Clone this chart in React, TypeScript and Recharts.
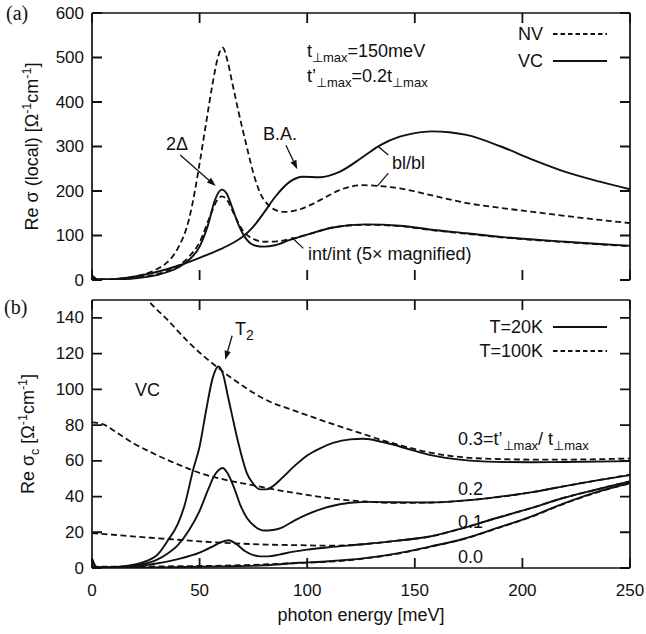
import React from 'react';
import { LineChart, Line, XAxis, YAxis, ReferenceLine } from 'recharts';

// ---------- ticks ----------
const xTicks = [0, 50, 100, 150, 200, 250];
const yTicksA = [0, 100, 200, 300, 400, 500, 600];
const yTicksB = [0, 20, 40, 60, 80, 100, 120, 140];

// ---------- panel (a) ----------
// NV bl/bl (dashed)
const nvBlX = [0, 2, 5, 10, 15, 20, 25, 30, 35, 40, 45, 48, 50, 53, 56, 58.5, 60.7, 63, 65, 68, 72, 75, 78, 82, 86, 90, 96, 103, 110, 115, 126, 134, 143, 158, 174, 190, 205, 220, 236, 250];
const nvBlY = [10, 2, 1, 2, 4, 8, 14, 24, 40, 72, 135, 205, 262, 352, 440, 500, 522, 492, 447, 380, 298, 240, 197, 168, 156, 153, 158, 172, 190, 202, 213, 211, 206, 190, 173, 162, 153, 144, 135, 128];
// VC bl/bl (solid)
const vcBlX = [0, 2, 5, 10, 20, 30, 40, 50, 60, 65, 70, 75, 80, 85, 92, 98, 106, 115, 126, 134, 143, 150, 158, 166, 174, 190, 205, 220, 236, 250];
const vcBlY = [10, 2, 1, 2, 8, 18, 32, 50, 70, 82, 97, 120, 152, 186, 221, 232, 231, 243, 277, 303, 322, 330, 334, 332, 326, 300, 270, 243, 221, 204];
// VC int/int x5 (solid)
const vcIntX = [0, 2, 5, 10, 20, 30, 40, 45, 50, 54, 57, 60.3, 62.5, 65, 68, 72, 76, 80, 85, 92, 100, 112, 127, 143, 158, 174, 190, 205, 220, 236, 250];
const vcIntY = [10, 2, 1, 1, 4, 11, 28, 45, 75, 125, 178, 203, 195, 165, 125, 90, 77, 75, 78, 90, 102, 118, 125, 122, 113, 105, 97, 91, 86, 81, 77];
// NV int/int x5 (dashed)
const nvIntX = [0, 2, 5, 10, 20, 30, 40, 45, 50, 55, 58, 60.4, 63, 66, 70, 75, 80, 86, 92, 100, 112, 127, 143, 158, 174, 190, 205, 220, 236, 250];
const nvIntY = [10, 2, 1, 1, 5, 13, 32, 52, 85, 145, 178, 188, 178, 148, 112, 92, 86, 87, 92, 102, 118, 124, 121, 112, 104, 96, 90, 85, 80, 76];

// ---------- panel (b) ----------
const vc03X = [0, 2, 5, 10, 20, 30, 35, 40, 43, 47, 50, 53, 56, 58.7, 61, 63, 65, 68, 72, 75, 78, 81, 84, 88, 94, 100, 106, 112, 120, 126, 135, 143, 158, 172, 188, 204, 220, 250];
const vc03Y = [5, 0.5, 0.3, 0.5, 2, 7, 15, 25, 35, 55, 68, 88, 106, 112.8, 108, 97, 86, 70, 53, 47, 44, 44, 45.7, 50, 57, 63, 67, 70, 72, 72.3, 70.5, 68, 63, 60.5, 59.4, 59.2, 59.3, 59.8];
const nv03X = [0, 10, 20, 26, 35, 46, 58.6, 70, 81, 93, 100, 112, 126, 135, 143, 157, 172, 188, 204, 220, 250];
const nv03Y = [215, 185, 160, 150, 139, 125, 112, 102, 94, 88.5, 85.5, 80.5, 75, 71.5, 68.8, 64.6, 62, 61, 60.7, 60.7, 61.3];
const vc02X = [0, 2, 5, 10, 20, 30, 35, 40, 45, 50, 54, 57, 60.7, 63, 66, 69, 72, 76, 80, 84, 88, 94, 100, 110, 120, 130, 140, 157, 172, 188, 204, 219, 234, 250];
const vc02Y = [5, 0.5, 0.3, 0.5, 1.5, 4.5, 8, 13, 21, 32, 44, 52, 56, 53, 45, 35, 28, 23, 21, 21.3, 22.5, 26.5, 30, 34.3, 36.5, 37, 36.8, 36.7, 37.7, 39.7, 42.3, 45.7, 48.9, 52];
const nv02X = [0, 5, 10, 19, 27, 35, 43, 50, 58, 66, 74, 81, 90, 97, 105, 112, 126, 142, 157, 172, 188, 204, 219, 234, 250];
const nv02Y = [81.5, 80.5, 77, 70, 65, 60.5, 56.5, 53.2, 50.5, 48.3, 46.5, 44.8, 42.8, 41.5, 40, 38.8, 37.3, 36.4, 36.6, 37.6, 39.6, 42.3, 45.7, 48.9, 52.2];
const vc01X = [0, 2, 5, 10, 20, 30, 40, 50, 56, 60, 63.5, 67, 71, 75, 78, 82, 87, 93, 100, 110, 126, 142, 157, 172, 188, 204, 219, 234, 250];
const vc01Y = [5, 0.5, 0.3, 0.4, 1, 2.5, 5, 8.6, 12, 14.5, 15.5, 13.5, 9.5, 7.2, 6.5, 6.5, 7.5, 9, 10.3, 11.6, 13.3, 15.3, 17.6, 22.2, 28, 33.5, 39.2, 43.8, 48.5];
const nv01X = [0, 10, 20, 30, 40, 50, 60, 70, 81, 95, 110, 126, 142, 157, 172, 188, 204, 219, 234, 250];
const nv01Y = [19.5, 18.6, 17.6, 16.7, 15.8, 14.9, 14.2, 13.6, 13.1, 12.8, 12.5, 13.3, 15.3, 17.6, 22.2, 28, 33.5, 39.2, 43.8, 48.5];
const vc00X = [0, 2, 5, 20, 40, 60, 80, 96, 110, 126, 142, 157, 172, 188, 204, 219, 234, 250];
const vc00Y = [5, 0.5, 0.2, 0.3, 0.5, 0.9, 1.5, 2.9, 3.8, 5.4, 8.2, 12, 16.1, 22.3, 28.8, 36, 42.3, 47.6];
const nv00X = [0, 20, 40, 60, 80, 96, 110, 126, 142, 157, 172, 188, 204, 219, 234, 250];
const nv00Y = [0.8, 0.8, 1, 1.3, 2, 2.8, 3.5, 5.2, 8, 11.8, 16, 22.1, 28.6, 35.8, 42.1, 47.4];

// annotation anchors (data coordinates)
const arrow2D = [{ x: 41, y: 281 }, { x: 57.5, y: 211 }];
const arrowBA = [{ x: 90.1, y: 303 }, { x: 95.4, y: 249 }];
const leadBlUp = [{ x: 137.7, y: 281 }, { x: 133, y: 300 }];
const leadBlDn = [{ x: 137.7, y: 240 }, { x: 132.6, y: 211 }];
const leadInt = [{ x: 98.2, y: 71 }, { x: 92.8, y: 96 }];
const arrowT2 = [{ x: 65.1, y: 130 }, { x: 61.9, y: 116.6 }];

const zip = (xs: number[], ys: number[]) => xs.map((x, i) => ({ x, y: ys[i] }));

const INK = '#111';
const FONT = '"Liberation Sans", Arial, Helvetica, sans-serif';
const DASH = '6 3.5';
const TL = 10; // inward tick length
const PLOT_W = 538;

const ArrowShape = (p: any) => {
  const { x1, y1, x2, y2 } = p;
  const dx = x2 - x1, dy = y2 - y1;
  const len = Math.hypot(dx, dy) || 1;
  const ux = dx / len, uy = dy / len;
  const L = 9, W = 3.2;
  const bx = x2 - ux * L, by = y2 - uy * L;
  return (
    <g>
      <line x1={x1} y1={y1} x2={bx} y2={by} stroke={INK} strokeWidth={1.3} />
      <polygon points={`${x2},${y2} ${bx - uy * W},${by + ux * W} ${bx + uy * W},${by - ux * W}`} fill={INK} />
    </g>
  );
};
const LeaderShape = (p: any) => (
  <line x1={p.x1} y1={p.y1} x2={p.x2} y2={p.y2} stroke={INK} strokeWidth={1.2} />
);

const LeftLabel = (p: any) => (
  <text x={p.x - 8} y={p.y} textAnchor="end" dominantBaseline="central" fontFamily={FONT} fontSize={17} fill={INK}>
    {p.payload.value}
  </text>
);
const BottomLabel = (p: any) => (
  <text x={p.x} y={p.y + 28} textAnchor="middle" fontFamily={FONT} fontSize={17} fill={INK}>
    {p.payload.value}
  </text>
);

const axisLine = { stroke: INK, strokeWidth: 1.7 };
const axesCommon = { axisLine, tickLine: false, tickSize: 0, tickMargin: 0, interval: 0 as const, allowDataOverflow: true };

const solid = (data: any[], key: string) => (
  <Line key={key} data={data} dataKey="y" type="monotone" dot={false} stroke={INK} strokeWidth={1.9} isAnimationActive={false} />
);
const dashed = (data: any[], key: string) => (
  <Line key={key} data={data} dataKey="y" type="monotone" dot={false} stroke={INK} strokeWidth={1.8}
    strokeDasharray={DASH} isAnimationActive={false} />
);

// frame (top & right) plus inward ticks on all four sides: each tick reference line
// spans the plot and is dashed so that only a short piece shows at each end.
const frame = (xMax: number, yMax: number, yTicks: number[], plotH: number) => [
  <ReferenceLine key="fy" y={yMax} stroke={INK} strokeWidth={1.7} />,
  <ReferenceLine key="fx" x={xMax} stroke={INK} strokeWidth={1.7} />,
  ...xTicks.map((v) => (
    <ReferenceLine key={'tx' + v} x={v} stroke={INK} strokeWidth={1.8}
      strokeDasharray={`${TL} ${plotH - 2 * TL} ${TL} 0`} />
  )),
  ...yTicks.map((v) => (
    <ReferenceLine key={'ty' + v} y={v} stroke={INK} strokeWidth={1.8}
      strokeDasharray={`${TL} ${PLOT_W - 2 * TL} ${TL} 0`} />
  )),
];

const Sub = ({ children, size = 13, d = 5 }: any) => (
  <tspan dy={d} fontSize={size}>{children}</tspan>
);

export default function App() {
  const W = 646;
  return (
    <div style={{ position: 'absolute', left: 0, top: 0, width: W, height: 634, background: '#fff' }}>
      {/* panel (a) */}
      <div style={{ position: 'absolute', left: 0, top: 0 }}>
        <LineChart width={W} height={290} margin={{ top: 13, right: 16, bottom: 10, left: 0 }}>
          <XAxis dataKey="x" type="number" domain={[0, 250]} ticks={xTicks} height={0} tick={false} {...axesCommon} />
          <YAxis type="number" domain={[0, 600]} ticks={yTicksA} width={92} tick={LeftLabel} {...axesCommon} />
          {frame(250, 600, yTicksA, 267)}
          {dashed(zip(nvBlX, nvBlY), 'nvBl')}
          {solid(zip(vcBlX, vcBlY), 'vcBl')}
          {dashed(zip(nvIntX, nvIntY), 'nvInt')}
          {solid(zip(vcIntX, vcIntY), 'vcInt')}
          <ReferenceLine segment={arrow2D} shape={ArrowShape} />
          <ReferenceLine segment={arrowBA} shape={ArrowShape} />
          <ReferenceLine segment={leadBlUp} shape={LeaderShape} />
          <ReferenceLine segment={leadBlDn} shape={LeaderShape} />
          <ReferenceLine segment={leadInt} shape={LeaderShape} />
        </LineChart>
      </div>

      {/* panel (b) */}
      <div style={{ position: 'absolute', left: 0, top: 290 }}>
        <LineChart width={W} height={344} margin={{ top: 10, right: 16, bottom: 0, left: 0 }}>
          <XAxis dataKey="x" type="number" domain={[0, 250]} ticks={xTicks} height={66} tick={BottomLabel} {...axesCommon} />
          <YAxis type="number" domain={[0, 150]} ticks={yTicksB} width={92} tick={LeftLabel} {...axesCommon} />
          {frame(250, 150, yTicksB, 268)}
          {dashed(zip(nv03X, nv03Y), 'nv03')}
          {solid(zip(vc03X, vc03Y), 'vc03')}
          {dashed(zip(nv02X, nv02Y), 'nv02')}
          {solid(zip(vc02X, vc02Y), 'vc02')}
          {dashed(zip(nv01X, nv01Y), 'nv01')}
          {solid(zip(vc01X, vc01Y), 'vc01')}
          {dashed(zip(nv00X, nv00Y), 'nv00')}
          {solid(zip(vc00X, vc00Y), 'vc00')}
          <ReferenceLine segment={arrowT2} shape={ArrowShape} />
        </LineChart>
      </div>

      {/* text overlay */}
      <svg width={W} height={634} style={{ position: 'absolute', left: 0, top: 0, pointerEvents: 'none' }}
        fontFamily={FONT} fill={INK}>
        <text x={6} y={20} fontFamily='"Liberation Serif", "Times New Roman", serif' fontSize={20}>(a)</text>
        <text x={4} y={314} fontFamily='"Liberation Serif", "Times New Roman", serif' fontSize={20}>(b)</text>

        {/* y labels */}
        <text transform="translate(38,146.5) rotate(-90)" textAnchor="middle" fontSize={18}>
          Re σ (local) [Ω<tspan dy={-7} fontSize={12.5}>-1</tspan><tspan dy={7}>cm</tspan><tspan dy={-7} fontSize={12.5}>-1</tspan><tspan dy={7}>]</tspan>
        </text>
        <text transform="translate(34,434) rotate(-90)" textAnchor="middle" fontSize={18}>
          Re σ<tspan dy={5} fontSize={12.5}>c</tspan><tspan dy={-5}> [Ω</tspan><tspan dy={-7} fontSize={12.5}>-1</tspan><tspan dy={7}>cm</tspan><tspan dy={-7} fontSize={12.5}>-1</tspan><tspan dy={7}>]</tspan>
        </text>
        <text x={361} y={621} textAnchor="middle" fontSize={18}>photon energy [meV]</text>

        {/* panel (a) annotations */}
        <text x={307} y={56.5} fontSize={18}>t<Sub>⊥max</Sub><tspan dy={-5}>=150meV</tspan></text>
        <text x={307} y={81.5} fontSize={18}>t’<Sub>⊥max</Sub><tspan dy={-5}>=0.2t</tspan><Sub>⊥max</Sub></text>
        <text x={543} y={34} textAnchor="end" dominantBaseline="central" fontSize={18}>NV</text>
        <text x={543} y={61} textAnchor="end" dominantBaseline="central" fontSize={18}>VC</text>
        <line x1={553} y1={34} x2={607} y2={34} stroke={INK} strokeWidth={1.8} strokeDasharray="4.5 3" />
        <line x1={553} y1={61} x2={607} y2={61} stroke={INK} strokeWidth={1.9} />
        <text x={166} y={144} dominantBaseline="central" fontSize={18}>2Δ</text>
        <text x={263} y={133.5} dominantBaseline="central" fontSize={18}>B.A.</text>
        <text x={392} y={162.5} dominantBaseline="central" fontSize={18}>bl/bl</text>
        <text x={308} y={254} dominantBaseline="central" fontSize={18}>int/int (5× magnified)</text>

        {/* panel (b) annotations */}
        <text x={135} y={390} dominantBaseline="central" fontSize={18}>VC</text>
        <text x={235} y={335} fontSize={18}>T<Sub size={14}>2</Sub></text>
        <text x={543} y={327} textAnchor="end" dominantBaseline="central" fontSize={18}>T=20K</text>
        <text x={543} y={351} textAnchor="end" dominantBaseline="central" fontSize={18}>T=100K</text>
        <line x1={553} y1={327} x2={607} y2={327} stroke={INK} strokeWidth={1.9} />
        <line x1={553} y1={351} x2={607} y2={351} stroke={INK} strokeWidth={1.8} strokeDasharray="4.5 3" />
        <text x={458} y={445} fontSize={18}>0.3=t’<Sub>⊥max</Sub><tspan dy={-5}>/ t</tspan><Sub>⊥max</Sub></text>
        <text x={458} y={495} fontSize={18}>0.2</text>
        <text x={458} y={528} fontSize={18}>0.1</text>
        <text x={458} y={563} fontSize={18}>0.0</text>
      </svg>
    </div>
  );
}
